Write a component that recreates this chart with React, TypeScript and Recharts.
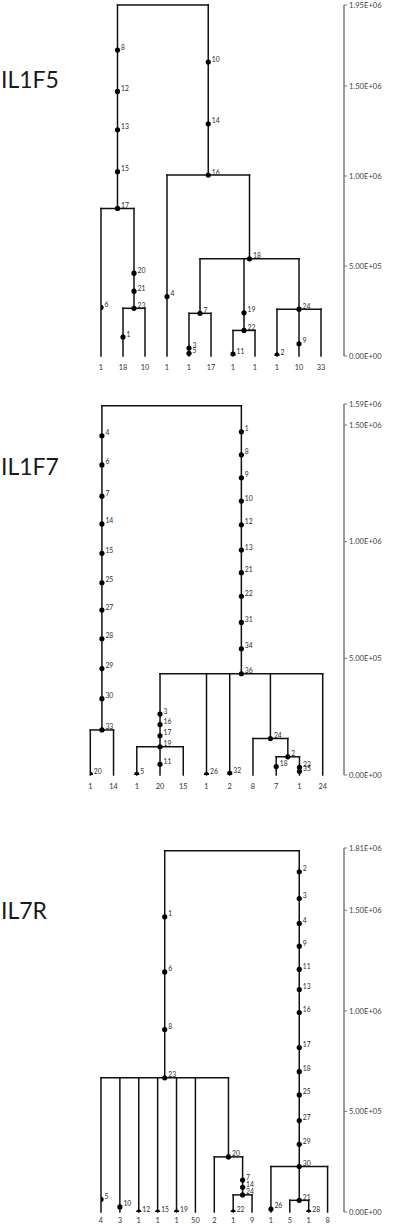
import { ComposedChart, ReferenceLine, Scatter, XAxis, YAxis } from "recharts";

type Kid = number | string;
type TreeNode = { id: string; h: number; kids: Kid[] };
type Mut = [string, Kid, number];

// IL1F5
const f5Counts = [1, 18, 10, 1, 1, 17, 1, 1, 1, 10, 33];
const f5Ticks = [0, 500000, 1000000, 1500000, 1950000];
const f5Nodes: TreeNode[] = [
  { id: "root", h: 1950000, kids: ["n17", "n16"] },
  { id: "n17", h: 820000, kids: [0, "n23"] },
  { id: "n23", h: 265000, kids: [1, 2] },
  { id: "n16", h: 1005000, kids: [3, "n18"] },
  { id: "n18", h: 540000, kids: ["n7", "n22", "n24"] },
  { id: "n7", h: 237000, kids: [4, 5] },
  { id: "n22", h: 142000, kids: [6, 7] },
  { id: "n24", h: 260000, kids: [8, 9, 10] },
];
const f5Muts: Mut[] = [
  ["8", "n17", 1700000], ["12", "n17", 1470000], ["13", "n17", 1257000],
  ["15", "n17", 1024000], ["17", "n17", 820000],
  ["6", 0, 270000],
  ["20", "n23", 460000], ["21", "n23", 360000], ["23", "n23", 265000],
  ["1", 1, 105000],
  ["10", "n16", 1633000], ["14", "n16", 1290000], ["16", "n16", 1005000],
  ["4", 3, 330000],
  ["18", "n18", 540000],
  ["7", "n7", 237000],
  ["3", 4, 44000], ["5", 4, 15000],
  ["19", "n22", 240000], ["22", "n22", 142000],
  ["11", 6, 10000],
  ["24", "n24", 260000],
  ["2", 8, 5000], ["9", 9, 68000],
];

// IL1F7
const f7Counts = [1, 14, 1, 20, 15, 1, 2, 8, 7, 1, 24];
const f7Ticks = [0, 500000, 1000000, 1500000, 1590000];
const f7Nodes: TreeNode[] = [
  { id: "root", h: 1583000, kids: ["n33", "n36"] },
  { id: "n33", h: 193000, kids: [0, 1] },
  { id: "n36", h: 434000, kids: ["n19", 5, 6, "n24", 10] },
  { id: "n19", h: 121000, kids: [2, 3, 4] },
  { id: "n24", h: 156000, kids: [7, "n2"] },
  { id: "n2", h: 78000, kids: [8, 9] },
];
const f7Muts: Mut[] = [
  ["4", "n33", 1454000], ["6", "n33", 1329000], ["7", "n33", 1195000],
  ["14", "n33", 1076000], ["15", "n33", 950000], ["25", "n33", 824000],
  ["27", "n33", 707000], ["28", "n33", 584000], ["29", "n33", 456000],
  ["30", "n33", 327000], ["33", "n33", 193000],
  ["20", 0, 3000],
  ["1", "n36", 1471000], ["8", "n36", 1372000], ["9", "n36", 1274000],
  ["10", "n36", 1174000], ["12", "n36", 1072000], ["13", "n36", 964000],
  ["21", "n36", 867000], ["22", "n36", 766000], ["31", "n36", 654000],
  ["34", "n36", 541000], ["36", "n36", 434000],
  ["3", "n19", 261000], ["16", "n19", 216000], ["17", "n19", 168000],
  ["19", "n19", 121000],
  ["5", 2, 3000], ["11", 3, 46000], ["26", 5, 2000], ["32", 6, 7000],
  ["24", "n24", 156000], ["2", "n2", 78000],
  ["18", 8, 36000], ["23", 9, 33000], ["35", 9, 16000],
];

// IL7R
const r7Counts = [4, 3, 1, 1, 1, 50, 2, 1, 9, 1, 5, 1, 8];
const r7Ticks = [0, 500000, 1000000, 1500000, 1810000];
const r7Nodes: TreeNode[] = [
  { id: "root", h: 1796000, kids: ["n23", "n30"] },
  { id: "n23", h: 667000, kids: [0, 1, 2, 3, 4, 5, "n20"] },
  { id: "n20", h: 274000, kids: [6, "n24"] },
  { id: "n24", h: 85000, kids: [7, 8] },
  { id: "n30", h: 226000, kids: [9, "n21", 12] },
  { id: "n21", h: 58000, kids: [10, 11] },
];
const r7Muts: Mut[] = [
  ["1", "n23", 1468000], ["6", "n23", 1194000], ["8", "n23", 907000],
  ["23", "n23", 667000],
  ["5", 0, 63000], ["10", 1, 25000], ["12", 2, 0], ["15", 3, 0], ["19", 4, 0],
  ["20", "n20", 274000],
  ["7", "n24", 159000], ["14", "n24", 123000], ["24", "n24", 85000],
  ["22", 7, 0],
  ["2", "n30", 1692000], ["3", "n30", 1559000], ["4", "n30", 1435000],
  ["9", "n30", 1322000], ["11", "n30", 1206000], ["13", "n30", 1106000],
  ["16", "n30", 992000], ["17", "n30", 818000], ["18", "n30", 698000],
  ["25", "n30", 582000], ["27", "n30", 455000], ["29", "n30", 337000],
  ["30", "n30", 226000],
  ["26", 9, 15000], ["21", "n21", 58000], ["28", 11, 0],
];

const FONT = "Lato, 'Noto Sans', sans-serif";

function sci(v: number) {
  if (v === 0) return "0.00E+00";
  const e = Math.floor(Math.log10(v));
  const m = v / Math.pow(10, e);
  return `${m.toFixed(2)}E+${String(e).padStart(2, "0")}`;
}

function layout(nodes: TreeNode[]) {
  const byId = new Map(nodes.map((n) => [n.id, n]));
  const xOf = (k: Kid): number => {
    if (typeof k === "number") return k;
    const n = byId.get(k)!;
    return (xOf(n.kids[0]) + xOf(n.kids[n.kids.length - 1])) / 2;
  };
  const hOf = (k: Kid) => (typeof k === "number" ? 0 : byId.get(k)!.h);
  const segs: { x: number; y: number }[][] = [];
  nodes.forEach((n) => {
    const xs = n.kids.map(xOf);
    segs.push([{ x: xs[0], y: n.h }, { x: xs[xs.length - 1], y: n.h }]);
    n.kids.forEach((k, i) => segs.push([{ x: xs[i], y: n.h }, { x: xs[i], y: hOf(k) }]));
  });
  return { xOf, segs };
}

type PanelProps = {
  title: string;
  titleY: number;
  counts: number[];
  nodes: TreeNode[];
  muts: Mut[];
  ticks: number[];
  top: number;
  height: number;
  marginTop: number;
  left: number;
  xMax: number;
  leafGap?: number;
};

function MutDot(props: any) {
  const { cx, cy, payload } = props;
  return (
    <g>
      <circle cx={cx} cy={cy} r={2.6} fill="#000" />
      <text x={cx + 3.5} y={cy - 0.5} fontSize={6.8} fill="#2a2a2a" fontFamily={FONT}>
        {payload.label}
      </text>
    </g>
  );
}

function TreePanel(p: PanelProps) {
  const { xOf, segs } = layout(p.nodes);
  const dots = p.muts.map(([label, branch, h]) => ({ x: xOf(branch), y: h, label }));
  const yTop = p.ticks[p.ticks.length - 1];
  return (
    <>
      <div
        style={{
          position: "absolute",
          left: 1,
          top: p.titleY - 14,
          fontFamily: FONT,
          fontSize: 23,
          lineHeight: "26px",
          color: "#1a1a1a",
        }}
      >
        {p.title}
      </div>
      <div style={{ position: "absolute", left: 0, top: p.top }}>
        <ComposedChart
          width={400}
          height={p.height + 6}
          margin={{ top: p.marginTop, right: 0, bottom: 6, left: p.left }}
        >
          <XAxis
            type="number"
            dataKey="x"
            domain={[0, p.xMax]}
            ticks={p.counts.map((_, i) => i)}
            tickFormatter={(v: number) => String(p.counts[v])}
            interval={0}
            axisLine={false}
            tickLine={false}
            tickMargin={p.leafGap ?? 3}
            height={14}
            allowDataOverflow
            tick={{ fontSize: 7.4, fill: "#333", fontFamily: FONT }}
          />
          <YAxis
            type="number"
            dataKey="y"
            orientation="right"
            domain={[0, yTop]}
            ticks={p.ticks}
            tickFormatter={sci}
            interval={0}
            width={56}
            tickSize={3}
            tickMargin={2}
            allowDataOverflow
            axisLine={{ stroke: "#7a7a7a", strokeWidth: 1.5 }}
            tickLine={{ stroke: "#7a7a7a" }}
            tick={{ fontSize: 7.6, fill: "#444", fontFamily: FONT }}
          />
          {segs.map((s, i) => (
            <ReferenceLine
              key={i}
              segment={s}
              stroke="#111"
              strokeWidth={1.5}
              strokeLinecap="square"
              ifOverflow="visible"
            />
          ))}
          <Scatter data={dots} dataKey="y" shape={MutDot} isAnimationActive={false} />
        </ComposedChart>
      </div>
    </>
  );
}

export default function App() {
  return (
    <div style={{ position: "relative", width: 400, height: 1225, background: "#fff", overflow: "hidden" }}>
      <style>{"body{margin:0}"}</style>
      <TreePanel
        title="IL1F5"
        titleY={80}
        counts={f5Counts}
        nodes={f5Nodes}
        muts={f5Muts}
        ticks={f5Ticks}
        top={0}
        height={370}
        marginTop={5}
        left={101}
        xMax={243 / 22}
      />
      <TreePanel
        title="IL1F7"
        titleY={467}
        counts={f7Counts}
        nodes={f7Nodes}
        muts={f7Muts}
        ticks={f7Ticks}
        top={390}
        height={399}
        marginTop={14}
        left={90.3}
        xMax={253.7 / 23.24}
      />
      <TreePanel
        title="IL7R"
        titleY={911}
        counts={r7Counts}
        nodes={r7Nodes}
        muts={r7Muts}
        ticks={r7Ticks}
        top={830}
        height={396}
        marginTop={18}
        left={101}
        xMax={243.5 / 18.92}
        leafGap={0}
      />
    </div>
  );
}
